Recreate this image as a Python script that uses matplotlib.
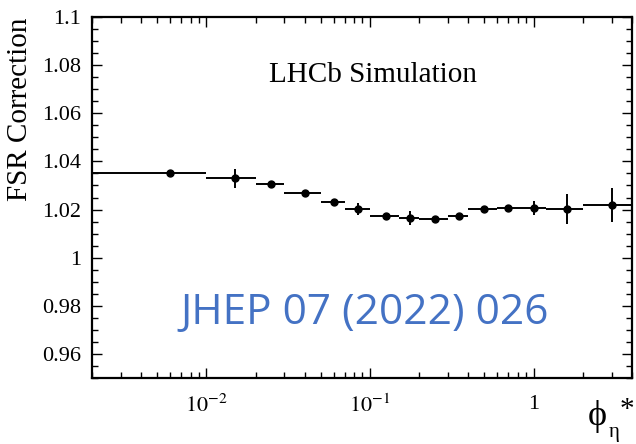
import numpy as np
import matplotlib
matplotlib.use("Agg")
import matplotlib.pyplot as plt
from matplotlib.ticker import FixedLocator, FixedFormatter, LogLocator, MultipleLocator, NullFormatter

plt.rcParams['font.family'] = 'Liberation Serif'
plt.rcParams['mathtext.fontset'] = 'stix'

# phi* binning and FSR correction per bin
bin_lo = [0, 0.01, 0.02, 0.03, 0.05, 0.07, 0.1, 0.15, 0.2, 0.3, 0.4, 0.6, 0.8, 1.2, 2.0]
bin_hi = [0.01, 0.02, 0.03, 0.05, 0.07, 0.1, 0.15, 0.2, 0.3, 0.4, 0.6, 0.8, 1.2, 2.0, 4.0]
bin_center = [0.006, 0.015, 0.025, 0.04, 0.06, 0.085, 0.125, 0.175, 0.25, 0.35, 0.5, 0.7, 1.0, 1.6, 3.0]
fsr_corr = [1.0350, 1.0329, 1.0308, 1.0267, 1.0233, 1.0203, 1.0175, 1.0165,
            1.0161, 1.0175, 1.0203, 1.0207, 1.0207, 1.0203, 1.0218]
fsr_err = [0.0005, 0.0038, 0.0008, 0.0006, 0.0006, 0.0026, 0.0006, 0.0031,
           0.0007, 0.0008, 0.0008, 0.0010, 0.0028, 0.0063, 0.0070]

xmin, xmax = 0.002, 4.0

x = np.array(bin_center)
lo = np.maximum(np.array(bin_lo), xmin)
hi = np.array(bin_hi)

fig = plt.figure(figsize=(6.36, 4.44), dpi=100)
ax = fig.add_axes([0.1447, 0.1486, 0.9937 - 0.1447, 0.9617 - 0.1486])

ax.errorbar(x, fsr_corr, xerr=[x - lo, hi - x], yerr=fsr_err, fmt='o', color='black',
            ms=5, elinewidth=1.4, capsize=0)

ax.set_xscale('log')
ax.set_xlim(xmin, xmax)
ax.set_ylim(0.95, 1.1)

ax.xaxis.set_major_locator(FixedLocator([0.01, 0.1, 1]))
ax.xaxis.set_major_formatter(FixedFormatter([r'$10^{-2}$', r'$10^{-1}$', '1']))
ax.xaxis.set_minor_locator(LogLocator(base=10, subs=np.arange(2, 10), numticks=20))
ax.xaxis.set_minor_formatter(NullFormatter())

yticks = [0.96, 0.98, 1.0, 1.02, 1.04, 1.06, 1.08, 1.1]
ylabels = ['0.96', '0.98', '1', '1.02', '1.04', '1.06', '1.08', '1.1']
ax.yaxis.set_major_locator(FixedLocator(yticks))
ax.yaxis.set_major_formatter(FixedFormatter(ylabels))
ax.yaxis.set_minor_locator(MultipleLocator(0.005))

ax.tick_params(which='both', direction='in', top=True, right=True, width=1.0)
ax.tick_params(which='major', length=7, labelsize=16)
ax.tick_params(which='minor', length=4)
ax.tick_params(axis='x', which='major', pad=12)
ax.tick_params(axis='y', which='major', pad=8)
for s in ax.spines.values():
    s.set_linewidth(1.6)

ax.set_ylabel('FSR Correction', fontsize=21, ha='right')
ax.yaxis.set_label_coords(-0.109, 1.0)

# x-axis title: upright phi with eta subscript and star superscript
fig.text(0.9387, 0.0630, '\u03d5', ha='center', va='center', fontsize=26)
fig.text(0.9654, 0.0260, '\u03b7', ha='center', va='center', fontsize=15)
fig.text(0.9858, 0.0770, '*', ha='center', va='center', fontsize=21)

ax.text(0.52, 0.84, 'LHCb Simulation', transform=ax.transAxes, ha='center', va='center', fontsize=21)

ax.text(0.505, 0.18, 'JHEP 07 (2022) 026', transform=ax.transAxes, ha='center', va='center',
        fontsize=30.5, color='#4472C4', family='Open Sans')

fig.savefig('out.png', dpi=100)
